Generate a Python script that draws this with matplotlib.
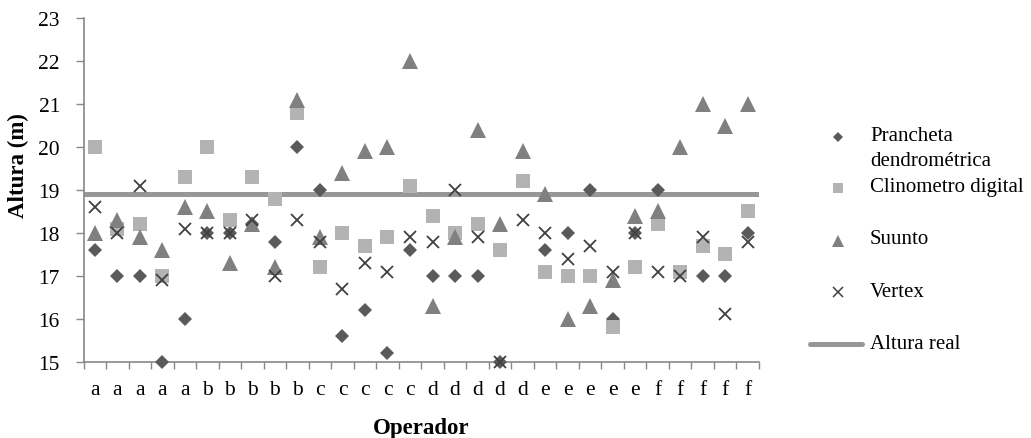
import matplotlib
matplotlib.use("Agg")
import matplotlib.pyplot as plt
import numpy as np

plt.rcParams["font.family"] = ["Liberation Serif", "DejaVu Serif"]

# Data
OPERADORES = list("aaaaabbbbbcccccdddddeeeeefffff")

PRANCHETA = [17.6, 17.0, 17.0, 15.0, 16.0, 18.0, 18.0, 18.2, 17.8, 20.0,
             19.0, 15.6, 16.2, 15.2, 17.6, 17.0, 17.0, 17.0, 15.0, 19.2,
             17.6, 18.0, 19.0, 16.0, 18.0, 19.0, 17.1, 17.0, 17.0, 18.0]
CLINOMETRO = [20.0, 18.1, 18.2, 17.0, 19.3, 20.0, 18.3, 19.3, 18.8, 20.8,
              17.2, 18.0, 17.7, 17.9, 19.1, 18.4, 18.0, 18.2, 17.6, 19.2,
              17.1, 17.0, 17.0, 15.8, 17.2, 18.2, 17.1, 17.7, 17.5, 18.5]
SUUNTO = [18.0, 18.3, 17.9, 17.6, 18.6, 18.5, 17.3, 18.2, 17.2, 21.1,
          17.9, 19.4, 19.9, 20.0, 22.0, 16.3, 17.9, 20.4, 18.2, 19.9,
          18.9, 16.0, 16.3, 16.9, 18.4, 18.5, 20.0, 21.0, 20.5, 21.0]
VERTEX = [18.6, 18.0, 19.1, 16.9, 18.1, 18.0, 18.0, 18.3, 17.0, 18.3,
          17.8, 16.7, 17.3, 17.1, 17.9, 17.8, 19.0, 17.9, 15.0, 18.3,
          18.0, 17.4, 17.7, 17.1, 18.0, 17.1, 17.0, 17.9, 16.1, 17.8]
ALTURA_REAL = 18.9

C_DIAM = "#5a5a5a"
C_SQ = "#b3b3b3"
C_TRI = "#808080"
C_X = "#404040"
C_LINE = "#979797"
C_AXIS = "#888888"

W, H = 1031, 439
fig = plt.figure(figsize=(W / 100, H / 100), dpi=100)
fig.patch.set_facecolor("white")

ax = fig.add_axes([83.5 / W, (H - 362.7) / H, (759 - 83.5) / W, (362.7 - 19.3) / H])
x = np.arange(len(OPERADORES))

ax.axhline(ALTURA_REAL, color=C_LINE, lw=3.6, zorder=1)
ax.plot(x, PRANCHETA, ls="none", marker="D", ms=7.2, color=C_DIAM, mew=0, zorder=3, clip_on=False)
ax.plot(x, CLINOMETRO, ls="none", marker="s", ms=10.5, color=C_SQ, mew=0, zorder=4, clip_on=False)
ax.plot(x, SUUNTO, ls="none", marker="^", ms=11, color=C_TRI, mew=0, zorder=5, clip_on=False)
ax.plot(x, VERTEX, ls="none", marker="x", ms=8.6, color=C_X, mew=1.3, zorder=6, clip_on=False)

ax.set_xlim(-0.5, len(OPERADORES) - 0.5)
ax.set_ylim(15, 23)
ax.set_yticks(range(15, 24))
ax.set_xticks(x)
ax.set_xticklabels(OPERADORES)
ax.set_xticks(np.arange(-0.5, len(OPERADORES)), minor=True)
ax.tick_params(axis="x", which="major", length=0, pad=13, labelsize=15.5)
ax.tick_params(axis="x", which="minor", length=5, width=1, color=C_AXIS, direction="out")
ax.tick_params(axis="y", length=6, width=1, color=C_AXIS, pad=11, labelsize=15.5)

for side in ("top", "right"):
    ax.spines[side].set_visible(False)
for side in ("left", "bottom"):
    ax.spines[side].set_color(C_AXIS)
    ax.spines[side].set_linewidth(1.2)

ax.set_ylabel("Altura (m)", fontsize=16.5, fontweight="bold")
ax.set_xlabel("Operador", fontsize=16.5, fontweight="bold")
ax.yaxis.set_label_coords(-0.080, 0.574)
ax.xaxis.set_label_coords(0.5, -0.16)

# Legend drawn in pixel coordinates
lg = fig.add_axes([0, 0, 1, 1], facecolor="none")
lg.set_xlim(0, W)
lg.set_ylim(H, 0)
lg.axis("off")
fs = 15
lg.plot([837.5], [137.5], marker="D", ms=5.2, color=C_DIAM, mew=0)
lg.plot([837.5], [189], marker="s", ms=7.5, color=C_SQ, mew=0)
lg.plot([837.5], [242], marker="^", ms=8, color=C_TRI, mew=0)
lg.plot([837.5], [293], marker="x", ms=6.5, color=C_X, mew=1.1)
lg.plot([810, 862], [345, 345], color=C_LINE, lw=3.6, solid_capstyle="round")
for yy, txt in [(137, "Prancheta"), (161.5, "dendrométrica"), (188, "Clinometro digital"),
                (240, "Suunto"), (292.5, "Vertex"), (345, "Altura real")]:
    lg.text(870, yy, txt, fontsize=fs, va="center", ha="left")

fig.savefig("out.png", dpi=100, facecolor="white")
